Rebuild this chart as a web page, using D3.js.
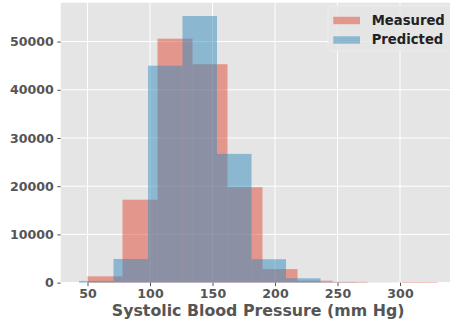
<!DOCTYPE html>
<html>
<head>
<meta charset="utf-8">
<script src="https://cdn.jsdelivr.net/npm/d3@7"></script>
<style>
body { margin:0; background:white; }
text { font-family: "DejaVu Sans", sans-serif; font-weight: bold; }
</style>
</head>
<body>
<svg></svg>
<script>
// histogram bins
var measuredEdges = [50, 78, 106, 134, 162, 190, 218, 246, 274, 302, 330]
var measuredCounts = [1300, 17200, 50600, 45300, 19800, 2800, 400, 150, 20, 120]

var predictedEdges = [43.2, 70.8, 98.4, 126.0, 153.6, 181.2, 208.8, 236.4, 264.0, 291.6, 319.2]
var predictedCounts = [350, 4900, 45000, 55300, 26700, 4850, 900, 80, 25, 10]

var xTicks = [50, 100, 150, 200, 250, 300]
var yTicks = [0, 10000, 20000, 30000, 40000, 50000]
var seriesNames = ["Measured", "Predicted"]
var seriesColors = ["#E24A33", "#348ABD"]

var screen = {width:450, height:326}
var panel = {left:60.75, right:455.5, top:2.7, bottom:282.6}

var svg = d3.select("svg")
    .attr("width", screen.width)
    .attr("height", screen.height)

var xScale = d3.scaleLinear()
               .domain([28.6, 344.4])
               .range([panel.left, panel.right])
var yScale = d3.scaleLinear()
               .domain([0, 58065])
               .range([panel.bottom, panel.top])

svg.append("rect")
   .attr("x", panel.left)
   .attr("y", panel.top)
   .attr("width", panel.right - panel.left)
   .attr("height", panel.bottom - panel.top)
   .attr("fill", "#E5E5E5")

// grid
svg.append("g")
   .selectAll("line")
   .data(xTicks)
   .enter()
   .append("line")
   .attr("x1", function(d){ return xScale(d)})
   .attr("x2", function(d){ return xScale(d)})
   .attr("y1", panel.top)
   .attr("y2", panel.bottom)
   .attr("stroke", "white")
   .attr("stroke-width", 1)

svg.append("g")
   .selectAll("line")
   .data(yTicks)
   .enter()
   .append("line")
   .attr("x1", panel.left)
   .attr("x2", panel.right)
   .attr("y1", function(d){ return yScale(d)})
   .attr("y2", function(d){ return yScale(d)})
   .attr("stroke", "white")
   .attr("stroke-width", 1)

var drawHist = function(edges, counts, color)
{
    svg.append("g")
       .selectAll("rect")
       .data(counts)
       .enter()
       .append("rect")
       .attr("x", function(d,i){ return xScale(edges[i])})
       .attr("width", function(d,i){ return xScale(edges[i+1]) - xScale(edges[i])})
       .attr("y", function(d){ return yScale(d)})
       .attr("height", function(d){ return yScale(0) - yScale(d)})
       .attr("fill", color)
       .attr("fill-opacity", 0.5)
}

drawHist(measuredEdges, measuredCounts, seriesColors[0])
drawHist(predictedEdges, predictedCounts, seriesColors[1])

// axes
var xAxis = d3.axisBottom(xScale).tickValues(xTicks).tickSize(3.5).tickPadding(3)
var yAxis = d3.axisLeft(yScale).tickValues(yTicks).tickSize(3.5).tickPadding(3.5)
                .tickFormat(d3.format("d"))

var gx = svg.append("g")
   .attr("transform", "translate(0," + panel.bottom + ")")
   .call(xAxis)
var gy = svg.append("g")
   .attr("transform", "translate(" + panel.left + ",0)")
   .call(yAxis)

svg.selectAll(".domain").remove()
svg.selectAll(".tick line").attr("stroke", "#555555")
svg.selectAll(".tick text")
   .attr("fill", "#555555")
   .style("font-size", "12.6px")

svg.append("text")
   .attr("x", (panel.left + panel.right) / 2)
   .attr("y", 315.5)
   .attr("text-anchor", "middle")
   .attr("fill", "#555555")
   .style("font-size", "15.8px")
   .text("Systolic Blood Pressure (mm Hg)")

// legend
var legend = svg.append("g")

legend.append("rect")
      .attr("x", 328)
      .attr("y", 6)
      .attr("width", 130)
      .attr("height", 45)
      .attr("rx", 3)
      .attr("fill", "#E5E5E5")
      .attr("fill-opacity", 0.8)
      .attr("stroke", "#EDEDED")

var items = legend.selectAll("g.item")
      .data(seriesNames)
      .enter()
      .append("g")
      .attr("class", "item")
      .attr("transform", function(d,i){ return "translate(0," + (i*19.5) + ")"})

items.append("rect")
     .attr("x", 333.3)
     .attr("y", 16.8)
     .attr("width", 26.7)
     .attr("height", 7.4)
     .attr("fill", function(d,i){ return seriesColors[i]})
     .attr("fill-opacity", 0.5)

items.append("text")
     .attr("x", 371.7)
     .attr("y", 24.8)
     .attr("fill", "#222222")
     .style("font-size", "13.2px")
     .text(function(d){ return d})
</script>
</body>
</html>
